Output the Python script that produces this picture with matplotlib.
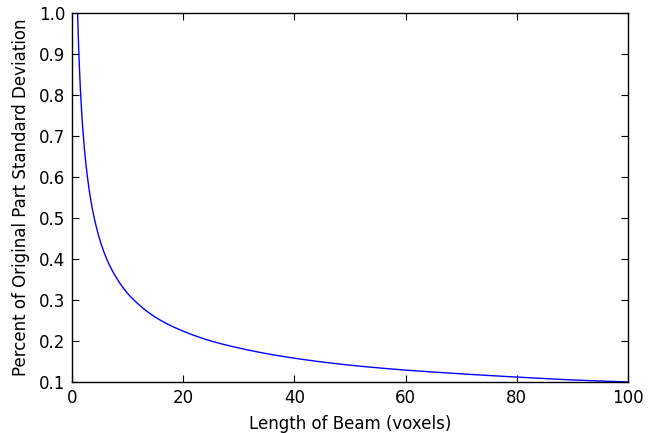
import numpy as np
import matplotlib
matplotlib.use("Agg")
import matplotlib.pyplot as plt

# values
beam_length = [1, 1.5, 2, 2.5, 3, 4, 5, 6, 7, 8, 10, 12, 15, 20, 25, 30,
               40, 50, 60, 70, 80, 90, 100]
pct_std = [1.0, 0.816, 0.707, 0.632, 0.577, 0.5, 0.447, 0.408, 0.378, 0.354,
           0.316, 0.289, 0.258, 0.224, 0.2, 0.183, 0.158, 0.141, 0.129,
           0.120, 0.112, 0.105, 0.1]

x_ticks = [0, 20, 40, 60, 80, 100]
y_ticks = [0.1, 0.2, 0.3, 0.4, 0.5, 0.6, 0.7, 0.8, 0.9, 1.0]

fig = plt.figure(figsize=(6.67, 4.33), dpi=100)
ax = fig.add_axes([72 / 667, 1 - 382 / 433, 556 / 667, 369 / 433])

# smooth the read points in log space for drawing
xs = np.linspace(1, 100, 400)
ys = np.exp(np.interp(np.log(xs), np.log(beam_length), np.log(pct_std)))
ax.plot(xs, ys, color='b', lw=1)

ax.set_xlim(0, 100)
ax.set_ylim(0.1, 1.0)
ax.set_xticks(x_ticks)
ax.set_yticks(y_ticks)
ax.set_yticklabels(['%.1f' % v for v in y_ticks])
ax.tick_params(direction='in', top=True, right=True, length=5, width=0.8,
               labelsize=12, pad=5)
for s in ax.spines.values():
    s.set_linewidth(1)
ax.set_xlabel('Length of Beam (voxels)', fontsize=12, labelpad=6)
ax.set_ylabel('Percent of Original Part Standard Deviation', fontsize=12,
              labelpad=6)

fig.savefig('out.png', dpi=100)
